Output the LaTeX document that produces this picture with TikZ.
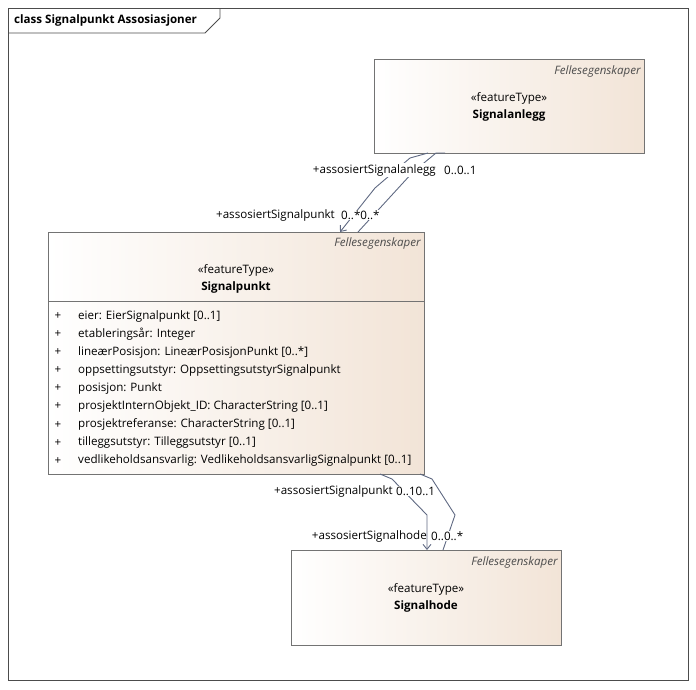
\documentclass[tikz,border=0pt]{standalone}
\usepackage{fontspec}
\setmainfont{Open Sans}
\usetikzlibrary{arrows.meta}
\definecolor{peach}{RGB}{242,228,215}
\definecolor{slate}{RGB}{95,105,130}
\begin{document}
\begin{tikzpicture}[x=1pt,y=-1pt,
  cls/.style={draw=black!55,line width=0.8pt,left color=white,right color=peach},
  t/.style={font=\fontsize{11.6}{13}\selectfont,inner sep=0pt},
  it/.style={t,font=\fontsize{11.6}{13}\selectfont\itshape,text=black!70},
  bf/.style={t,font=\fontsize{11.6}{13}\selectfont\bfseries},
  con/.style={draw=slate,line width=0.9pt},
  arr/.style={con,-{Straight Barb[length=5pt,width=8pt]}}]
\useasboundingbox (0,0) rectangle (696,689);
\draw[black!70,line width=0.8pt] (8,8) rectangle (688,680);
\draw[black!70,line width=0.8pt] (8,33) -- (205,33) -- (220,18) -- (220,8);
\node[bf,anchor=west] (title) at (14,20) {class Signalpunkt Assosiasjoner};
% Signalanlegg
\path[cls] (374,59) rectangle (644,153);
\node[it,anchor=east] (anlf) at (641,71) {Fellesegenskaper};
\node[t] (anls) at (509,98) {«featureType»};
\node[bf] (anln) at (509,115) {Signalanlegg};
% Signalpunkt
\path[cls] (48,232) rectangle (424,474);
\draw[black!55,line width=0.8pt] (48,301) -- (424,301);
\node[it,anchor=east] (pf) at (421,243) {Fellesegenskaper};
\node[t] (ps) at (236,270) {«featureType»};
\node[bf] (pn) at (236,287) {Signalpunkt};
\foreach \i/\s in {0/{eier: EierSignalpunkt [0..1]},1/{etableringsår: Integer},2/{lineærPosisjon: LineærPosisjonPunkt [0..*]},3/{oppsettingsutstyr: OppsettingsutstyrSignalpunkt},4/{posisjon: Punkt},5/{prosjektInternObjekt\_ID: CharacterString [0..1]},6/{prosjektreferanse: CharacterString [0..1]},7/{tilleggsutstyr: Tilleggsutstyr [0..1]},8/{vedlikeholdsansvarlig: VedlikeholdsansvarligSignalpunkt [0..1]}}{
  \node[t] (pl\i) at (58,{316+18.1*\i}) {+};
  \node[t,anchor=west] (a\i) at (78,{316+18.1*\i}) {\s};
}
% Signalhode
\path[cls] (291,550) rectangle (561,645);
\node[it,anchor=east] (hf) at (558,562) {Fellesegenskaper};
\node[t] (hs) at (426,589) {«featureType»};
\node[bf] (hn) at (426,606) {Signalhode};
% connectors upper
\coordinate (u1) at (428,153); \coordinate (u1b) at (410,158);
\coordinate (u2) at (436,153); \coordinate (u3) at (445,153);
\coordinate (p1) at (340,232); \coordinate (p2) at (358,232);
\draw[arr] (u1) -- (u1b) -- (375,188) -- (p1);
\draw[con] (u3) -- (u2) -- (413,172) -- (p2);
\node[t,anchor=east,fill=white,inner sep=1pt] (l1) at (437,170) {+assosiertSignalanlegg};
\node[t,anchor=west] (l2) at (444,170) {0..0..1};
\node[t,anchor=east] (l3) at (335,215) {+assosiertSignalpunkt};
\node[t,anchor=west,fill=white,inner sep=1pt] (l4) at (340,215) {0..*0..*};
% connectors lower
\coordinate (d1) at (380,474); \coordinate (d2) at (420,474);
\coordinate (h1) at (427,550); \coordinate (h2) at (443,550);
\draw[arr] (d1) -- (392,479) -- (427,515) -- (h1);
\draw[con] (d2) -- (432,479) -- (455,515) -- (h2);
\node[t,anchor=east] (l5) at (393,491) {+assosiertSignalpunkt};
\node[t,anchor=west,fill=white,inner sep=1pt] (l6) at (395,491) {0..10..1};
\node[t,anchor=east] (l7) at (427,536) {+assosiertSignalhode};
\node[t,anchor=west,fill=white,inner sep=1pt] (l8) at (430,536) {0..0..*};
\end{tikzpicture}
\end{document}
